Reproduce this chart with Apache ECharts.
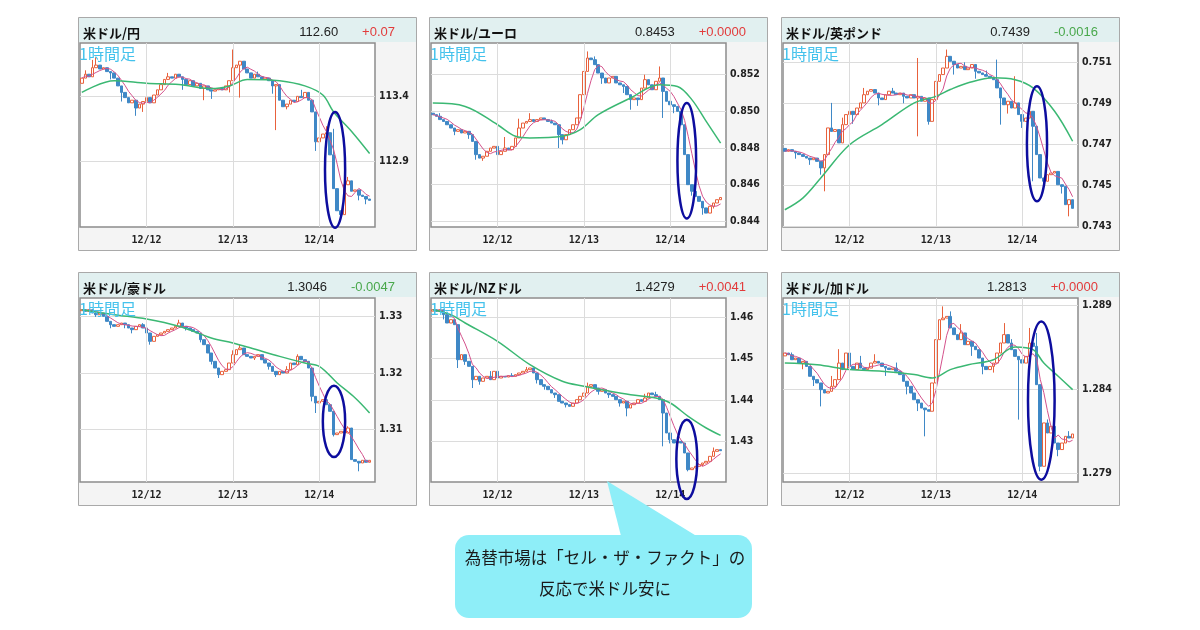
<!DOCTYPE html>
<html>
<head>
<meta charset="utf-8">
<script src="https://cdn.jsdelivr.net/npm/echarts@6/dist/echarts.min.js"></script>
<style>
  html, body { margin: 0; padding: 0; background: #fff; }
  #chart { width: 1200px; height: 630px; }
</style>
</head>
<body>
<div id="chart"></div>
<script>
// hourly slots shown on every panel (index 0 = 12/11 06:00)
const days = ['12/11', '12/12', '12/13', '12/14']
const firstHour = 6
const slotCount = 82

// 米ドル/円
const jpyClose = [113.54, 113.57, 113.55, 113.62, 113.64, 113.61, 113.62, 113.59, 113.58, 113.54,
  113.48, 113.43, 113.39, 113.35, 113.37, 113.31, 113.34, 113.36, 113.39, 113.35,
  113.41, 113.45, 113.49, 113.53, 113.55, 113.54, 113.57, 113.55, 113.53, 113.49,
  113.52, 113.48, 113.50, 113.46, 113.48, 113.45, 113.44, 113.45, 113.46, 113.45,
  113.48, 113.52, 113.62, 113.64, 113.67, 113.61, 113.58, 113.54, 113.57, 113.55,
  113.53, 113.54, 113.52, 113.48, 113.49, 113.37, 113.32, 113.34, 113.37, 113.36,
  113.40, 113.39, 113.43, 113.37, 113.28, 113.05, 113.08, 113.11, 113.12, 112.95,
  112.69, 112.52, 112.49, 112.72, 112.75, 112.67, 112.68, 112.64, 112.63, 112.61, 112.60]
const jpyOpen0 = 113.50
const jpyWicks = [[1, null, 113.60], [3, null, 113.68], [4, null, 113.70], [8, 113.53, null],
  [11, 113.36, null], [15, 113.25, null], [17, 113.28, null], [24, null, 113.58], [28, 113.45, null],
  [34, 113.37, null], [36, 113.38, null], [41, 113.43, null], [42, null, 113.76], [44, 113.39, null],
  [49, null, 113.59], [53, 113.42, null], [54, 113.14, null], [57, 113.30, null], [61, null, 113.45],
  [65, 112.98, null], [68, null, 113.17], [70, null, 113.15], [72, 112.47, null], [74, null, 112.78],
  [77, 112.60, null], [79, 112.57, null]]
const jpyMA = [[0, 113.43], [9, 113.52], [18, 113.50], [27, 113.49], [36, 113.46], [41, 113.48],
  [46, 113.53], [55, 113.52], [62, 113.48], [67, 113.41], [70, 113.28], [75, 113.13], [80, 112.96]]
const jpyTicks = [112.9, 113.4]

// 米ドル/ユーロ
const eurClose = [0.84982, 0.84973, 0.84955, 0.84945, 0.84927, 0.84909, 0.84891, 0.84900, 0.84882, 0.84891,
  0.84873, 0.84836, 0.84764, 0.84745, 0.84755, 0.84782, 0.84800, 0.84809, 0.84764, 0.84782,
  0.84800, 0.84791, 0.84809, 0.84855, 0.84909, 0.84936, 0.84945, 0.84955, 0.84945, 0.84955,
  0.84964, 0.84955, 0.84945, 0.84936, 0.84927, 0.84873, 0.84845, 0.84873, 0.84900, 0.84927,
  0.84964, 0.85091, 0.85218, 0.85291, 0.85282, 0.85255, 0.85209, 0.85182, 0.85155, 0.85182,
  0.85191, 0.85155, 0.85145, 0.85136, 0.85091, 0.85064, 0.85073, 0.85064, 0.85127, 0.85173,
  0.85145, 0.85118, 0.85164, 0.85182, 0.85109, 0.85055, 0.85036, 0.85027, 0.85000, 0.84927,
  0.84764, 0.84600, 0.84564, 0.84536, 0.84509, 0.84473, 0.84445, 0.84482, 0.84500, 0.84518, 0.84530]
const eurOpen0 = 0.84990
const eurWicks = [[2, null, 0.84990], [6, 0.84870, null], [10, 0.84850, null], [12, 0.84736, null],
  [14, 0.84730, null], [18, 0.84664, null], [20, null, 0.84860], [24, null, 0.84960], [27, null, 0.84990],
  [33, null, 0.84955], [35, 0.84800, null], [36, 0.84820, null], [43, null, 0.85327], [45, null, 0.85300],
  [47, 0.85150, null], [53, 0.85100, null], [55, 0.85009, null], [57, 0.85030, null], [59, null, 0.85200],
  [63, null, 0.85245], [64, 0.84964, null], [67, 0.84990, null], [72, 0.84540, null], [75, 0.84436, null],
  [78, 0.84470, null]]
const eurMA = [[0, 0.85045], [9, 0.85027], [18, 0.84927], [23, 0.84864], [27, 0.84855], [36, 0.84864],
  [41, 0.84900], [46, 0.84982], [55, 0.85073], [63, 0.85145], [68, 0.85136], [72, 0.85064],
  [76, 0.84945], [80, 0.84827]]
const eurTicks = [0.844, 0.846, 0.848, 0.850, 0.852]

// 米ドル/英ポンド
const gbpClose = [0.74666, 0.74674, 0.74666, 0.74658, 0.74650, 0.74641, 0.74633, 0.74625, 0.74633, 0.74617,
  0.74585, 0.74650, 0.74780, 0.74763, 0.74772, 0.74707, 0.74796, 0.74845, 0.74861, 0.74845,
  0.74877, 0.74902, 0.74942, 0.74959, 0.74967, 0.74950, 0.74926, 0.74918, 0.74942, 0.74959,
  0.74950, 0.74942, 0.74950, 0.74934, 0.74926, 0.74942, 0.74926, 0.74934, 0.74910, 0.74926,
  0.74812, 0.74918, 0.75007, 0.75040, 0.75072, 0.75129, 0.75105, 0.75089, 0.75072, 0.75080,
  0.75064, 0.75072, 0.75089, 0.75056, 0.75048, 0.75040, 0.75032, 0.75024, 0.75015, 0.74975,
  0.74926, 0.74893, 0.74910, 0.74877, 0.74902, 0.74845, 0.74812, 0.74828, 0.74861, 0.74788,
  0.74650, 0.74536, 0.74520, 0.74552, 0.74560, 0.74568, 0.74503, 0.74495, 0.74406, 0.74430, 0.74388]
const gbpOpen0 = 0.74680
const gbpWicks = [[3, 0.74630, null], [7, 0.74600, null], [10, 0.74552, null], [11, 0.74471, null],
  [13, null, 0.74902], [16, null, 0.74830], [19, 0.74800, null], [22, null, 0.74975], [26, 0.74890, null],
  [30, null, 0.74975], [33, 0.74900, null], [37, 0.74739, 0.75121], [40, 0.74796, null],
  [45, null, 0.75162], [47, 0.75040, null], [50, null, 0.75100], [53, 0.75020, null], [56, null, 0.75060],
  [59, null, 0.75113], [60, 0.74796, null], [62, 0.74850, null], [64, null, 0.75032], [66, 0.74780, null],
  [69, 0.74520, null], [72, 0.74500, null], [77, 0.74460, null], [79, 0.74349, null]]
const gbpMA = [[0, 0.74381], [5, 0.74438], [10, 0.74536], [18, 0.74698], [27, 0.74796], [36, 0.74902],
  [42, 0.74934], [46, 0.74967], [51, 0.75000], [58, 0.75024], [64, 0.75015], [69, 0.74975],
  [75, 0.74861], [80, 0.74715]]
const gbpTicks = [0.743, 0.745, 0.747, 0.749, 0.751]

// 米ドル/豪ドル
const audClose = [1.33118, 1.33088, 1.33118, 1.33059, 1.33029, 1.33059, 1.33000, 1.32912, 1.32853, 1.32824,
  1.32853, 1.32882, 1.32853, 1.32794, 1.32765, 1.32824, 1.32853, 1.32794, 1.32706, 1.32559,
  1.32647, 1.32676, 1.32706, 1.32735, 1.32765, 1.32794, 1.32824, 1.32882, 1.32824, 1.32794,
  1.32765, 1.32735, 1.32706, 1.32588, 1.32500, 1.32353, 1.32206, 1.32088, 1.31971, 1.32029,
  1.32059, 1.32176, 1.32324, 1.32412, 1.32441, 1.32324, 1.32294, 1.32265, 1.32294, 1.32324,
  1.32235, 1.32176, 1.32118, 1.32029, 1.31971, 1.32029, 1.32000, 1.32059, 1.32176, 1.32147,
  1.32294, 1.32235, 1.32206, 1.32088, 1.31588, 1.31471, 1.31500, 1.31529, 1.31441, 1.31324,
  1.30912, 1.30941, 1.30971, 1.30941, 1.31029, 1.30471, 1.30441, 1.30412, 1.30459, 1.30424, 1.30459]
const audOpen0 = 1.33100
const audWicks = [[4, 1.32990, null], [8, 1.32790, null], [12, 1.32790, null], [14, 1.32700, null],
  [17, null, 1.32880], [19, 1.32500, null], [27, null, 1.32940], [29, 1.32750, null], [33, 1.32540, null],
  [36, 1.32150, null], [38, 1.31912, null], [42, null, 1.32400], [44, null, 1.32500], [48, 1.32230, null],
  [52, 1.32060, null], [54, 1.31930, null], [57, null, 1.32120], [60, null, 1.32330], [63, null, 1.32180],
  [64, 1.31500, null], [65, 1.31294, null], [68, null, 1.31530], [70, 1.30880, null], [74, null, 1.31060],
  [77, 1.30265, null]]
const audMA = [[0, 1.33118], [9, 1.33029], [18, 1.32953], [27, 1.32824], [36, 1.32618], [42, 1.32529],
  [47, 1.32441], [55, 1.32294], [62, 1.32176], [66, 1.32118], [71, 1.31824], [76, 1.31559], [80, 1.31294]]
const audTicks = [1.31, 1.32, 1.33]

// 米ドル/NZドル
const nzdClose = [1.46185, 1.46145, 1.46185, 1.46065, 1.45863, 1.45944, 1.45823, 1.44976, 1.45097, 1.44935,
  1.44815, 1.44492, 1.44573, 1.44452, 1.44532, 1.44573, 1.44492, 1.44694, 1.44532, 1.44573,
  1.44556, 1.44589, 1.44573, 1.44613, 1.44653, 1.44694, 1.44734, 1.44774, 1.44653, 1.44492,
  1.44371, 1.44331, 1.44250, 1.44169, 1.44129, 1.43968, 1.43927, 1.43887, 1.43847, 1.43927,
  1.44008, 1.44089, 1.44169, 1.44331, 1.44371, 1.44290, 1.44210, 1.44250, 1.44169, 1.44129,
  1.44089, 1.44008, 1.43927, 1.43968, 1.43806, 1.43887, 1.43927, 1.44008, 1.43968, 1.44048,
  1.44169, 1.44129, 1.44089, 1.44008, 1.43685, 1.43202, 1.43040, 1.42960, 1.43000, 1.42960,
  1.42718, 1.42315, 1.42355, 1.42395, 1.42435, 1.42476, 1.42516, 1.42637, 1.42758, 1.42798, 1.42774]
const nzdOpen0 = 1.46150
const nzdWicks = [[3, 1.45950, null], [7, 1.44774, null], [9, 1.44850, null], [11, 1.44290, null],
  [13, 1.44370, null], [16, null, 1.44700], [18, 1.44450, null], [22, null, 1.44650], [26, null, 1.44800],
  [29, 1.44400, null], [31, 1.44250, null], [34, 1.44050, null], [37, 1.43820, null], [43, null, 1.44420],
  [46, 1.44130, null], [49, 1.44050, null], [52, 1.43840, null], [54, 1.43605, null], [59, null, 1.44150],
  [62, null, 1.44200], [64, 1.42879, null], [66, 1.42950, null], [71, 1.42274, null], [75, 1.42400, null],
  [78, null, 1.42850]]
const nzdMA = [[0, 1.46185], [5, 1.46065], [9, 1.45863], [18, 1.45419], [27, 1.44855], [36, 1.44452],
  [42, 1.44331], [47, 1.44250], [55, 1.44129], [62, 1.44048], [66, 1.43927], [71, 1.43605],
  [76, 1.43323], [80, 1.43145]]
const nzdTicks = [1.43, 1.44, 1.45, 1.46]

// 米ドル/加ドル
const cadClose = [1.28617, 1.28607, 1.28577, 1.28587, 1.28557, 1.28567, 1.28537, 1.28478, 1.28458, 1.28438,
  1.28398, 1.28378, 1.28388, 1.28418, 1.28458, 1.28557, 1.28518, 1.28617, 1.28537, 1.28518,
  1.28557, 1.28527, 1.28518, 1.28527, 1.28557, 1.28567, 1.28557, 1.28537, 1.28527, 1.28518,
  1.28527, 1.28508, 1.28488, 1.28448, 1.28418, 1.28378, 1.28338, 1.28318, 1.28288, 1.28278,
  1.28269, 1.28438, 1.28697, 1.28816, 1.28826, 1.28836, 1.28767, 1.28727, 1.28697, 1.28737,
  1.28667, 1.28687, 1.28657, 1.28637, 1.28587, 1.28537, 1.28518, 1.28537, 1.28557, 1.28617,
  1.28677, 1.28727, 1.28677, 1.28637, 1.28597, 1.28577, 1.28557, 1.28597, 1.28677, 1.28657,
  1.28428, 1.27940, 1.28199, 1.28139, 1.28179, 1.28079, 1.28040, 1.28079, 1.28119, 1.28109, 1.28133]
const cadOpen0 = 1.28600
const cadWicks = [[2, null, 1.28620], [5, 1.28520, null], [8, 1.28420, null], [10, 1.28298, null],
  [13, null, 1.28480], [15, null, 1.28640], [18, 1.28440, null], [21, null, 1.28600], [25, null, 1.28610],
  [28, 1.28480, null], [31, null, 1.28560], [34, 1.28370, null], [37, 1.28270, null], [39, 1.28119, null],
  [42, 1.28640, null], [44, null, 1.28896], [46, null, 1.28866], [49, null, 1.28790], [52, 1.28600, null],
  [55, 1.28490, null], [58, 1.28500, null], [61, null, 1.28796], [63, null, 1.28700], [65, 1.28219, null],
  [68, null, 1.28767], [70, null, 1.28737], [71, 1.27910, null], [73, null, 1.28220], [76, 1.28000, null],
  [79, null, 1.28150]]
const cadMA = [[0, 1.28557], [9, 1.28547], [18, 1.28518], [27, 1.28508], [36, 1.28488], [41, 1.28468],
  [46, 1.28518], [51, 1.28547], [58, 1.28577], [64, 1.28653], [69, 1.28637], [72, 1.28557],
  [76, 1.28478], [80, 1.28398]]
const cadTicks = [1.279, 1.284, 1.289]

const dayLineIdx = [18, 42, 66]

const calloutLines = ['為替市場は「セル・ザ・ファクト」の', '反応で米ドル安に']

const AXIS_FONT = '"DejaVu Sans Condensed", "DejaVu Sans", sans-serif'
const MONO_FONT = '"DejaVu Sans Mono", monospace'
const JP_FONT = '"Noto Sans CJK JP", sans-serif'
const NUM_FONT = '"Liberation Sans", Arial, sans-serif'
const UP = '#e8613c'
const DOWN = '#3f88c6'
const RED = '#e23b3b'
const GREEN = '#49a84c'

// ellipse: [centre slot, half width in slots, top value, bottom value]
const panels = [
  { x0: 78, y0: 17, title: '米ドル/円', price: '112.60', change: '+0.07', color: RED,
    close: jpyClose, open0: jpyOpen0, wicks: jpyWicks, ma: jpyMA, ticks: jpyTicks, dec: 1,
    min: 112.395, max: 113.81, ellipse: [70.4, 2.8, 113.28, 112.39] },
  { x0: 429, y0: 17, title: '米ドル/ユーロ', price: '0.8453', change: '+0.0000', color: RED,
    close: eurClose, open0: eurOpen0, wicks: eurWicks, ma: eurMA, ticks: eurTicks, dec: 3,
    min: 0.84369, max: 0.85373, ellipse: [70.6, 2.6, 0.85045, 0.84415] },
  { x0: 781, y0: 17, title: '米ドル/英ポンド', price: '0.7439', change: '-0.0016', color: GREEN,
    close: gbpClose, open0: gbpOpen0, wicks: gbpWicks, ma: gbpMA, ticks: gbpTicks, dec: 3,
    min: 0.74297, max: 0.75194, ellipse: [70.1, 2.8, 0.74983, 0.74422] },
  { x0: 78, y0: 272, title: '米ドル/豪ドル', price: '1.3046', change: '-0.0047', color: GREEN,
    close: audClose, open0: audOpen0, wicks: audWicks, ma: audMA, ticks: audTicks, dec: 2,
    min: 1.30076, max: 1.33324, ellipse: [70.1, 3.1, 1.31776, 1.30518] },
  { x0: 429, y0: 272, title: '米ドル/NZドル', price: '1.4279', change: '+0.0041', color: RED,
    close: nzdClose, open0: nzdOpen0, wicks: nzdWicks, ma: nzdMA, ticks: nzdTicks, dec: 2,
    min: 1.42016, max: 1.46468, ellipse: [70.6, 2.9, 1.43524, 1.41605] },
  { x0: 781, y0: 272, title: '米ドル/加ドル', price: '1.2813', change: '+0.0000', color: RED,
    close: cadClose, open0: cadOpen0, wicks: cadWicks, ma: cadMA, ticks: cadTicks, dec: 3,
    min: 1.27846, max: 1.28946, ellipse: [71.3, 3.7, 1.28806, 1.27860] }
]

const categories = []
for (let k = 0; k < slotCount; k++) {
  const h = firstHour + k
  categories.push(days[Math.floor(h / 24)] + ' ' + String(h % 24).padStart(2, '0') + ':00')
}

function buildCandles(close, open0, wicks) {
  const extra = new Map(wicks.map(w => [w[0], w]))
  return close.map((c, i) => {
    const o = i === 0 ? open0 : close[i - 1]
    let lo = Math.min(o, c)
    let hi = Math.max(o, c)
    const w = extra.get(i)
    if (w) {
      if (w[1] != null) lo = Math.min(lo, w[1])
      if (w[2] != null) hi = Math.max(hi, w[2])
    }
    return [o, c, lo, hi]
  })
}

function movingAverage(close, n) {
  return close.map((_, i) => {
    const win = close.slice(Math.max(0, i - n + 1), i + 1)
    return win.reduce((a, b) => a + b, 0) / win.length
  })
}

const chart = echarts.init(document.getElementById('chart'), null, { renderer: 'canvas' })

const grid = []
const xAxis = []
const yAxis = []
const series = []

panels.forEach((p, k) => {
  grid.push({
    left: p.x0 + 2, top: p.y0 + 26, width: 295, height: 184,
    show: true, backgroundColor: '#fff', borderColor: '#8c8c8c', borderWidth: 1.5
  })
  xAxis.push({
    type: 'category', gridIndex: k, data: categories, boundaryGap: true,
    axisLine: { show: false }, axisTick: { show: false }, splitLine: { show: false },
    axisLabel: {
      interval: (i) => categories[i].endsWith(' 00:00'),
      formatter: (v) => v.split(' ')[0],
      color: '#222', fontWeight: 'bold', fontFamily: MONO_FONT, fontSize: 10, margin: 8
    }
  })
  yAxis.push({
    type: 'value', gridIndex: k, position: 'right', min: p.min, max: p.max, scale: true,
    axisLine: { show: false },
    axisTick: { show: false, customValues: p.ticks },
    axisLabel: {
      customValues: p.ticks, formatter: (v) => v.toFixed(p.dec),
      color: '#222', fontWeight: 'bold', fontFamily: AXIS_FONT, fontSize: 10.5, margin: 4
    },
    splitLine: { show: true, lineStyle: { color: '#dcdcdc', width: 1 } }
  })
  series.push({
    type: 'line', xAxisIndex: k, yAxisIndex: k, data: [], z: 1, silent: true,
    markLine: {
      silent: true, symbol: 'none', label: { show: false }, animation: false,
      lineStyle: { color: '#dcdcdc', type: 'solid', width: 1 },
      data: dayLineIdx.map(i => ({ xAxis: i }))
    }
  })
  series.push({
    type: 'candlestick', xAxisIndex: k, yAxisIndex: k, z: 2,
    data: buildCandles(p.close, p.open0, p.wicks), barWidth: '88%',
    itemStyle: { color: '#fff', color0: DOWN, borderColor: UP, borderColor0: DOWN, borderWidth: 1 }
  })
  series.push({
    type: 'line', xAxisIndex: k, yAxisIndex: k, z: 3, data: movingAverage(p.close, 5),
    showSymbol: false, smooth: false, lineStyle: { color: '#d4528c', width: 1 }
  })
  series.push({
    type: 'line', xAxisIndex: k, yAxisIndex: k, z: 3, data: p.ma,
    showSymbol: false, smooth: 0.35, lineStyle: { color: '#3bb873', width: 1.5 }
  })
})

chart.setOption({ animation: false, grid, xAxis, yAxis, series })

// annotations: panel frames, headers, ellipses and the callout
const measure = document.createElement('canvas').getContext('2d')
const HEAD_FONT = '13px ' + NUM_FONT
measure.font = HEAD_FONT

const graphic = []
panels.forEach((p, k) => {
  graphic.push({ type: 'rect', z: -10, shape: { x: p.x0 + 0.5, y: p.y0 + 0.5, width: 338, height: 233 },
    style: { fill: '#f4f4f4', stroke: '#a9a9a9', lineWidth: 1 } })
  graphic.push({ type: 'rect', z: -9, shape: { x: p.x0 + 1, y: p.y0 + 1, width: 337, height: 24 },
    style: { fill: '#e1f0f0' } })
  graphic.push({ type: 'text', z: 10, style: { x: p.x0 + 5, y: p.y0 + 16, text: p.title,
    font: 'bold 13px ' + JP_FONT, fill: '#111', textVerticalAlign: 'middle', verticalAlign: 'middle' } })
  const changeRight = p.x0 + 317
  const changeW = measure.measureText(p.change).width
  graphic.push({ type: 'text', z: 10, style: { x: changeRight, y: p.y0 + 15, text: p.change,
    font: HEAD_FONT, fill: p.color, textAlign: 'right', align: 'right',
    textVerticalAlign: 'middle', verticalAlign: 'middle' } })
  graphic.push({ type: 'text', z: 10, style: { x: changeRight - changeW - 24, y: p.y0 + 15, text: p.price,
    font: HEAD_FONT, fill: '#222', textAlign: 'right', align: 'right',
    textVerticalAlign: 'middle', verticalAlign: 'middle' } })
  graphic.push({ type: 'text', z: 10, style: { x: p.x0 + 1, y: p.y0 + 37, text: '1時間足',
    font: '16px ' + JP_FONT, fill: '#44c2ec', textVerticalAlign: 'middle', verticalAlign: 'middle' } })

  const [cIdx, halfSlots, topV, botV] = p.ellipse
  const a = chart.convertToPixel({ gridIndex: k }, [0, topV])
  const b = chart.convertToPixel({ gridIndex: k }, [1, botV])
  const slot = b[0] - a[0]
  graphic.push({ type: 'ellipse', z: 20, shape: {
    cx: a[0] + cIdx * slot, cy: (a[1] + b[1]) / 2, rx: halfSlots * slot, ry: (b[1] - a[1]) / 2 },
    style: { fill: 'none', stroke: '#0d0d9e', lineWidth: 2.5 } })
})

graphic.push({ type: 'polygon', z: 30, shape: { points: [[607, 481], [622, 540], [703, 540]] },
  style: { fill: '#8eeef8' } })
graphic.push({ type: 'rect', z: 30, shape: { x: 455, y: 535, width: 297, height: 83, r: 14 },
  style: { fill: '#8eeef8' } })
calloutLines.forEach((line, i) => {
  graphic.push({ type: 'text', z: 31, style: { x: 605, y: 558 + i * 31, text: line,
    font: '16.5px ' + JP_FONT, fill: '#1a1a1a', textAlign: 'center', align: 'center',
    textVerticalAlign: 'middle', verticalAlign: 'middle' } })
})

chart.setOption({ graphic })
</script>
</body>
</html>
